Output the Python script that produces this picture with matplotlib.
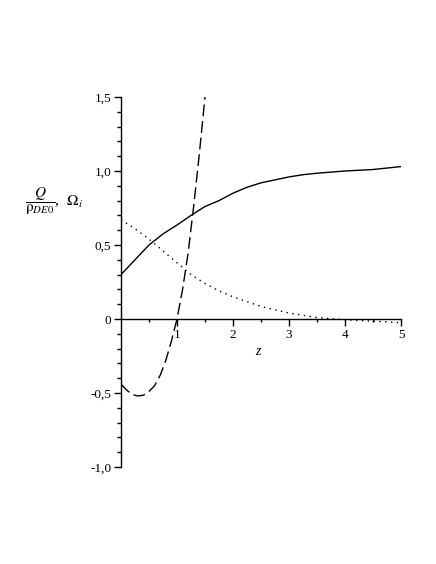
"""Q / rho_DE0 and Omega_i versus z"""
import matplotlib
matplotlib.use("Agg")
import matplotlib.pyplot as plt
from matplotlib.ticker import MultipleLocator, FixedLocator

plt.rcParams["font.family"] = "Liberation Serif"
plt.rcParams["mathtext.fontset"] = "stix"

# solid curve
z_solid = [0, 0.25, 0.5, 0.75, 1.0, 1.25, 1.5, 1.75, 2.0, 2.25, 2.5, 2.75, 3.0, 3.25, 3.5, 4.0, 4.5, 5.0]
solid = [0.30, 0.40, 0.50, 0.575, 0.635, 0.70, 0.76, 0.80, 0.85, 0.89, 0.92, 0.94, 0.96, 0.975, 0.985, 1.00, 1.01, 1.03]

# dotted curve
z_dot = [0, 0.25, 0.5, 0.75, 1.0, 1.25, 1.5, 1.75, 2.0, 2.5, 3.0, 3.5, 4.0, 4.5, 5.0]
dotted = [0.67, 0.61, 0.54, 0.46, 0.38, 0.30, 0.24, 0.19, 0.15, 0.085, 0.04, 0.01, -0.005, -0.015, -0.025]

# dashed curve
z_dash = [0, 0.1, 0.2, 0.3, 0.4, 0.5, 0.6, 0.7, 0.8, 0.9, 1.0, 1.1, 1.2, 1.3, 1.4, 1.5]
dashed = [-0.44, -0.48, -0.51, -0.52, -0.515, -0.49, -0.45, -0.38, -0.28, -0.15, 0.0, 0.2, 0.45, 0.77, 1.12, 1.5]

ytick_vals = [-1.0, -0.5, 0, 0.5, 1.0, 1.5]
ytick_labels = ["-1,0", "-0,5", "0", "0,5", "1,0", "1,5"]
xtick_vals = [1, 2, 3, 4, 5]

fig = plt.figure(figsize=(4.36, 5.64), dpi=100)
ax = fig.add_axes([121/436, 1 - 467/564, 280/436, 370/564])

ax.plot(z_solid, solid, color="black", lw=1.0)
ax.plot(z_dot, dotted, color="black", lw=1.0, dashes=(1, 3.2))
ax.plot(z_dash, dashed, color="black", lw=1.0, dashes=(8.5, 3.5))

ax.set_xlim(0, 5)
ax.set_ylim(-1.0, 1.5)

for s in ["top", "right"]:
    ax.spines[s].set_visible(False)
ax.spines["left"].set_position(("data", 0))
ax.spines["bottom"].set_position(("data", 0))
ax.spines["left"].set_linewidth(1.0)
ax.spines["bottom"].set_linewidth(1.0)

ax.set_yticks(ytick_vals)
ax.set_yticklabels(ytick_labels)
ax.yaxis.set_minor_locator(MultipleLocator(0.1))
ax.set_xticks(xtick_vals)
ax.set_xticklabels([str(v) for v in xtick_vals])
ax.xaxis.set_minor_locator(FixedLocator([0.5, 1.5, 2.5, 3.5, 4.5]))

ax.tick_params(axis="both", which="major", direction="out", length=5, width=1, labelsize=9.5, pad=2)
ax.tick_params(axis="y", which="minor", direction="out", length=3, width=1)
ax.tick_params(axis="x", which="minor", direction="out", length=2, width=1)

ax.text(2.44, -0.22, "z", fontsize=10, style="italic", ha="center", va="center")

fig.text(0.058, 1 - 201/564, r"$\dfrac{Q}{\mathrm{\rho}_{DE0}}$,  $\Omega_i$", fontsize=11, ha="left", va="center")

fig.savefig("out.png", dpi=100)
